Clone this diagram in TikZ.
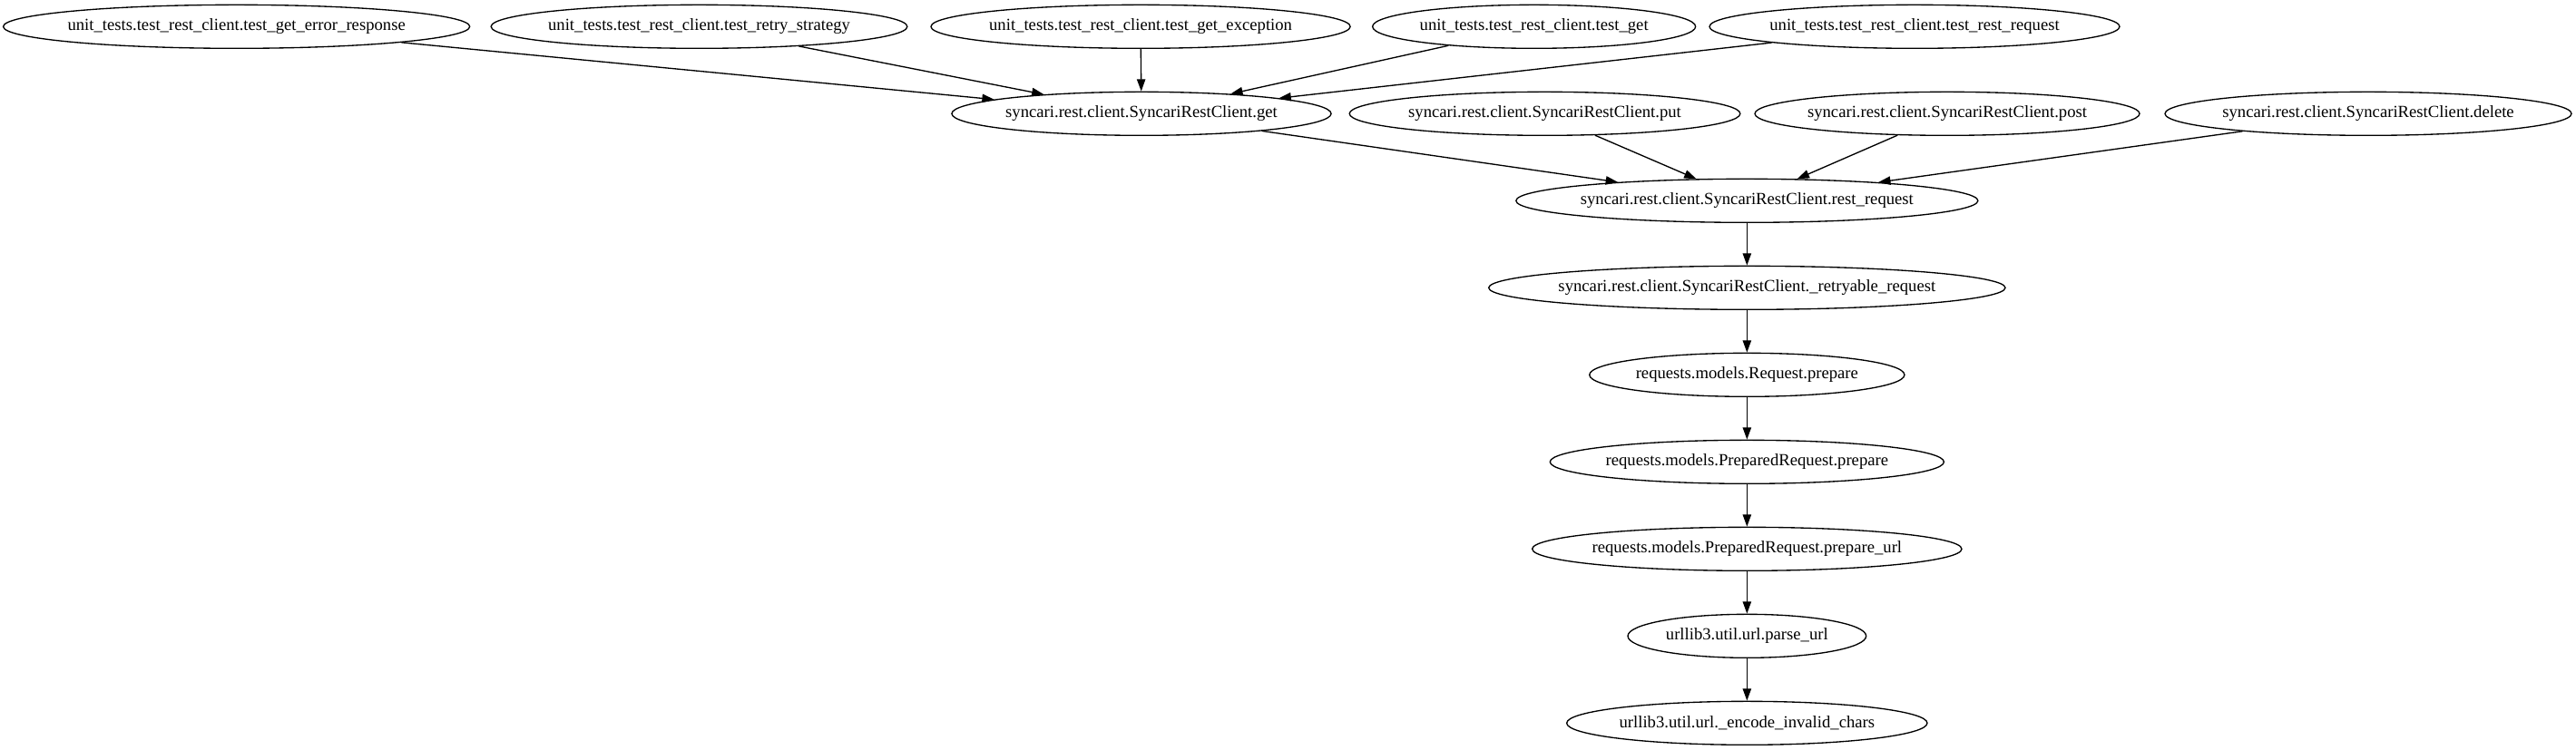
\documentclass[tikz,border=0pt]{standalone}
\usepackage{fontspec}
\setmainfont{Liberation Serif}
\usetikzlibrary{shapes.geometric,arrows.meta}
\tikzset{
  fn/.style={ellipse, draw, line width=1pt, minimum height=36pt, inner sep=0pt, font=\fontsize{14}{16}\selectfont,
    execute at begin node={\hbox to 0pt\bgroup\hss}, execute at end node={\hss\egroup}},
  call/.style={-{Triangle[length=10pt,width=7pt]}, line width=1pt}
}
\begin{document}
\begin{tikzpicture}[x=1pt,y=1pt]
        \useasboundingbox (0,0) rectangle (2129.25,620.25);
        % Dibuja las pruebas
        \node[fn, minimum width=385.6pt] (errresp) at (195.5,598.25) {unit\_tests.test\_rest\_client.test\_get\_error\_response};
        \node[fn, minimum width=344pt] (retrystrat) at (577.9,598.25) {unit\_tests.test\_rest\_client.test\_retry\_strategy};
        \node[fn, minimum width=346.6pt] (getexc) at (942.8,598.25) {unit\_tests.test\_rest\_client.test\_get\_exception};
        \node[fn, minimum width=267pt] (testget) at (1268,598.25) {unit\_tests.test\_rest\_client.test\_get};
        \node[fn, minimum width=339pt] (testrest) at (1582.5,598.25) {unit\_tests.test\_rest\_client.test\_rest\_request};
        % Metodos del cliente
        \node[fn, minimum width=313.6pt] (get) at (943.5,526.25) {syncari.rest.client.SyncariRestClient.get};
        \node[fn, minimum width=323pt] (put) at (1276.9,526.25) {syncari.rest.client.SyncariRestClient.put};
        \node[fn, minimum width=318pt] (post) at (1609.5,526.25) {syncari.rest.client.SyncariRestClient.post};
        \node[fn, minimum width=336pt] (delete) at (1957.5,526.25) {syncari.rest.client.SyncariRestClient.delete};
        \node[fn, minimum width=381.8pt] (restreq) at (1444,454.25) {syncari.rest.client.SyncariRestClient.rest\_request};
        \node[fn, minimum width=427pt] (retryreq) at (1444,382.25) {syncari.rest.client.SyncariRestClient.\_retryable\_request};
        % Cadena de requests y urllib3
        \node[fn, minimum width=260.4pt] (reqprep) at (1444,310.25) {requests.models.Request.prepare};
        \node[fn, minimum width=325.6pt] (prepprep) at (1444,238.25) {requests.models.PreparedRequest.prepare};
        \node[fn, minimum width=355pt] (prepurl) at (1444,166.25) {requests.models.PreparedRequest.prepare\_url};
        \node[fn, minimum width=197pt] (parseurl) at (1444,94.25) {urllib3.util.url.parse\_url};
        \node[fn, minimum width=298pt] (encode) at (1444,22.25) {urllib3.util.url.\_encode\_invalid\_chars};
        % Flechas
        \draw[call] (errresp) -- (get);
        \draw[call] (retrystrat) -- (get);
        \draw[call] (getexc) -- (get);
        \draw[call] (testget) -- (get);
        \draw[call] (testrest) -- (get);
        \draw[call] (get) -- (restreq);
        \draw[call] (put) -- (restreq);
        \draw[call] (post) -- (restreq);
        \draw[call] (delete) -- (restreq);
        \draw[call] (restreq) -- (retryreq);
        \draw[call] (retryreq) -- (reqprep);
        \draw[call] (reqprep) -- (prepprep);
        \draw[call] (prepprep) -- (prepurl);
        \draw[call] (prepurl) -- (parseurl);
        \draw[call] (parseurl) -- (encode);
    \end{tikzpicture}
\end{document}
